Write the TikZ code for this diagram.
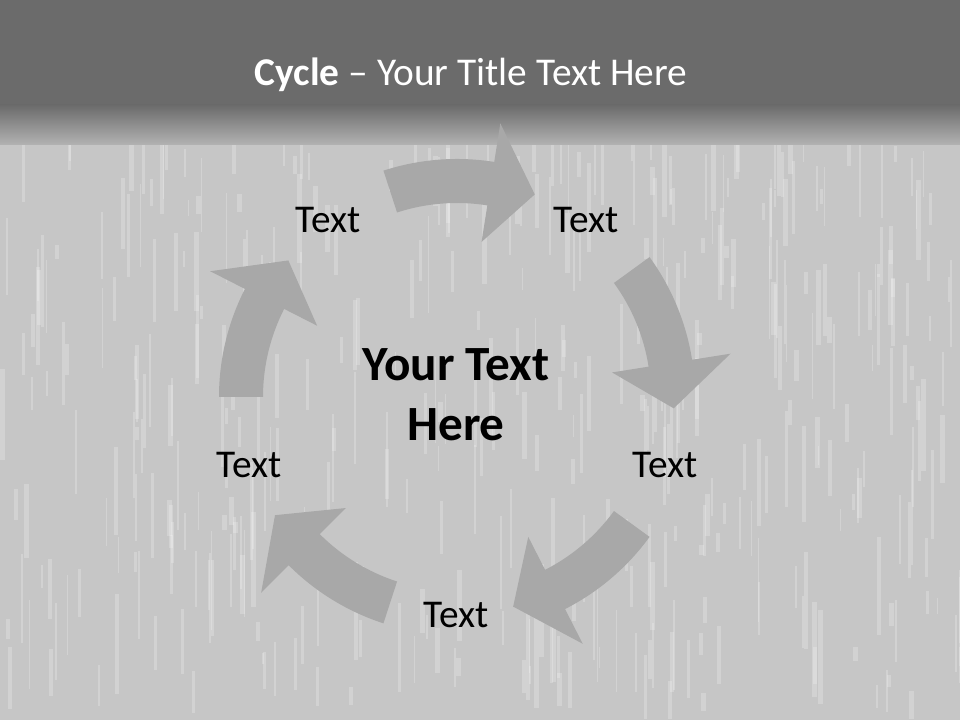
\documentclass[tikz,border=0pt]{standalone}
\usepackage{fontspec}
\setmainfont{Carlito}
\usepackage{tikz}
\usetikzlibrary{positioning,calc}

\definecolor{bandgray}{RGB}{107,107,107}
\definecolor{wallgray}{RGB}{198,198,198}
\definecolor{arrowgray}{RGB}{168,168,168}

% one curved arrow of the cycle, centred on angle #1, running clockwise
\newcommand{\cyclearrow}[1]{%
  \fill[arrowfill] ({#1+18}:238) arc[start angle={#1+18}, end angle={#1-9}, radius=238]
    -- ({#1-9}:277) -- ({#1-21}:217) -- ({#1-9}:157) -- ({#1-9}:194)
    arc[start angle={#1-9}, end angle={#1+18}, radius=194] -- cycle;}

\begin{document}
\begin{tikzpicture}[x=0.025cm, y=0.025cm]
    \tikzstyle{arrowfill} = [fill=arrowgray]
    \tikzstyle{label} = [font=\fontsize{28}{33}\selectfont, text=black, inner sep=0pt]
    \tikzstyle{hub} = [font=\fontsize{35}{43}\selectfont\bfseries, text=black, align=center, inner sep=0pt]
    \tikzstyle{heading} = [font=\fontsize{28}{33}\selectfont, text=white, inner sep=0pt]

    \useasboundingbox (0,0) rectangle (960,720);

    % background: textured wall and dark title band
    \fill[wallgray] (0,0) rectangle (960,575);
    \pgfmathsetseed{17}
    \foreach \i in {1,...,420} {
        \pgfmathsetmacro\sx{rnd*960}
        \pgfmathsetmacro\sy{rnd*560}
        \pgfmathsetmacro\sw{1+rnd*4}
        \pgfmathsetmacro\sh{10+rnd*90}
        \fill[white, opacity=0.22] (\sx,\sy) rectangle ++(\sw,\sh);
    }
    \fill[bandgray] (0,615) rectangle (960,720);
    \shade[top color=bandgray, bottom color=gray!60] (0,575) rectangle (960,615);

    \node[heading] (title) at (471,645) {\textbf{Cycle} – Your Title Text Here};

    % the five arrows round the hub
    \begin{scope}[shift={(457,323)}]
        \foreach \a in {90,18,-54,-126,162} {\cyclearrow{\a}}
    \end{scope}

    \node[hub] (hub) at (456,325) {Your Text\\Here};

    \node[label] (topleft) at (328,500) {Text};
    \node[label] (topright) at (586,500) {Text};
    \node[label] (right) at (665,255) {Text};
    \node[label] (bottom) at (456,105) {Text};
    \node[label] (left) at (249,255) {Text};
\end{tikzpicture}
\end{document}
